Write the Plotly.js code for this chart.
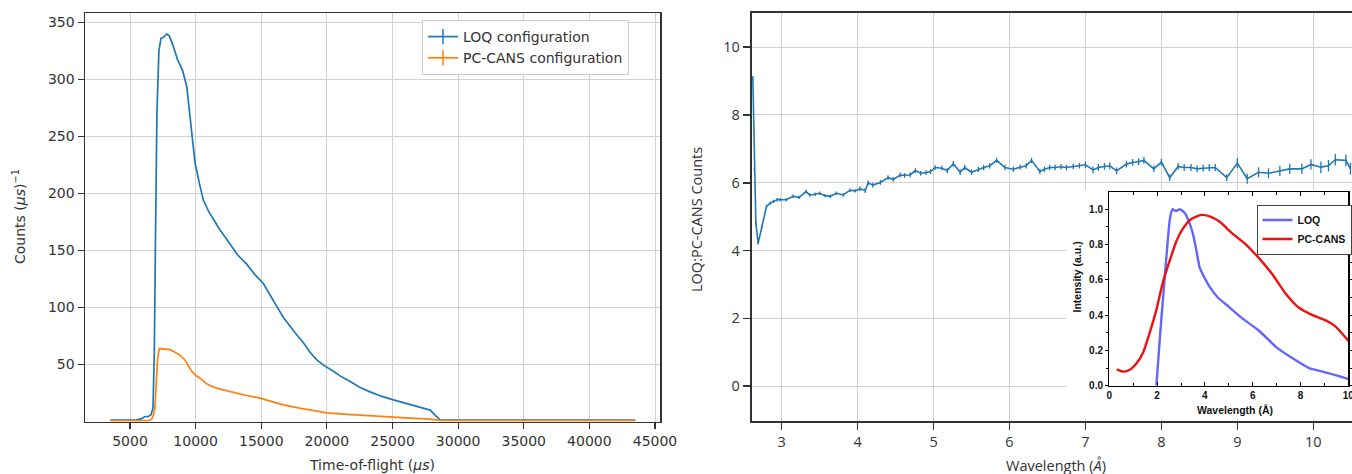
<!DOCTYPE html>
<html><head><meta charset="utf-8">
<script src="https://cdn.plot.ly/plotly-3.0.1.min.js"></script>
<style>html,body{margin:0;padding:0;background:#fff}</style>
</head><body>
<div id="chart" style="width:1352px;height:474px"></div>
<script>
// ---- Left panel: time-of-flight spectra ----
const loqTof = [3500,4500,5500,5900,6100,6400,6600,6750,6850,6950,7050,7200,7360,7550,7800,8000,8300,8600,9000,9320,9500,9700,9950,10300,10590,11000,11350,11860,12300,12620,13200,13890,14500,15160,15700,16180,16700,17200,17700,18210,18700,19230,19800,20500,21000,21770,22500,23290,24200,25070,25800,26600,27300,27870,28200,28630,30000,35000,40000,43500];
const loqCounts = [1.2,1.2,1.5,2.5,4.2,4.5,6,12,60,170,270,325,336,337,340,338,329,318,308,294,275,259,227,208,194,184,177,168,161,156,146,138,129,121,110,101,91,83,76,69,61,54,49,44,40,35,30,26,22,19,16.5,14,12,10,6,1.5,1.2,1.2,1.2,1.2];
const pcTof = [3500,5000,6400,6650,6800,6905,7000,7100,7233,7600,8049,8400,8811,9190,9450,9700,10000,10335,10840,11300,11860,12870,13800,14900,15800,16680,17900,19230,20000,21000,22780,24500,26300,27870,28600,30000,43500];
const pcCounts = [0.6,0.6,0.7,2,6,13,35,55,64,63.5,63,61,58,54,49,44,40.5,38,33,30.5,28.4,25.4,23,20.5,17.5,14.6,11.8,8.8,7.6,6.7,5.3,4.2,3,2,1,0.7,0.7];
const tofTicks = [5000,10000,15000,20000,25000,30000,35000,40000,45000];
const countTicks = [50,100,150,200,250,300,350];
const leftNames = ['LOQ configuration','PC-CANS configuration'];

// ---- Right panel: LOQ:PC-CANS ratio ----
const ratioWavelength = [2.62,2.64,2.66,2.69,2.74,2.80,2.85,2.89,2.94,2.98,3.06,3.15,3.23,3.32,3.37,3.44,3.50,3.57,3.64,3.72,3.81,3.90,3.97,4.03,4.10,4.14,4.20,4.30,4.40,4.47,4.56,4.62,4.69,4.76,4.83,4.90,4.96,5.02,5.11,5.18,5.26,5.35,5.41,5.50,5.59,5.66,5.74,5.83,5.94,6.05,6.14,6.22,6.29,6.40,6.46,6.53,6.60,6.68,6.75,6.84,6.92,7.00,7.10,7.17,7.25,7.32,7.41,7.54,7.62,7.70,7.77,7.90,8.00,8.11,8.22,8.30,8.39,8.47,8.55,8.63,8.71,8.86,9.00,9.13,9.28,9.41,9.56,9.69,9.85,9.97,10.10,10.20,10.29,10.43,10.49];
const ratioCounts = [9.1,6.4,4.8,4.22,4.71,5.3,5.4,5.45,5.5,5.5,5.5,5.6,5.57,5.74,5.64,5.66,5.69,5.62,5.6,5.69,5.64,5.78,5.76,5.82,5.77,6.0,5.93,6.01,6.15,6.1,6.23,6.22,6.23,6.36,6.28,6.3,6.33,6.45,6.43,6.36,6.56,6.31,6.45,6.31,6.4,6.45,6.5,6.66,6.45,6.40,6.46,6.5,6.66,6.33,6.4,6.45,6.45,6.47,6.45,6.48,6.5,6.53,6.38,6.45,6.48,6.5,6.35,6.55,6.6,6.62,6.66,6.41,6.61,6.15,6.48,6.45,6.45,6.41,6.43,6.45,6.45,6.15,6.58,6.12,6.31,6.28,6.35,6.41,6.41,6.54,6.46,6.5,6.68,6.66,6.41];
const ratioError = [0.05,0.05,0.05,0.05,0.05,0.05,0.05,0.05,0.05,0.05,
  0.05,0.05,0.05,0.05,0.05,0.05,0.05,0.05,0.05,0.05,
  0.05,0.05,0.05,0.07,0.07,0.07,0.07,0.07,0.07,0.07,
  0.07,0.07,0.07,0.07,0.07,0.07,0.07,0.07,0.07,0.07,
  0.08,0.08,0.08,0.08,0.08,0.08,0.08,0.08,0.08,0.08,
  0.08,0.08,0.08,0.08,0.08,0.08,0.08,0.08,0.08,0.08,
  0.08,0.1,0.1,0.1,0.1,0.1,0.1,0.1,0.1,0.1,
  0.1,0.1,0.1,0.1,0.1,0.1,0.1,0.1,0.1,0.1,
  0.1,0.1,0.15,0.15,0.15,0.15,0.15,0.15,0.15,0.15,
  0.17,0.17,0.17,0.17,0.17];
const ratioXTicks = [3,4,5,6,7,8,9,10];
const ratioYTicks = [0,2,4,6,8,10];

// ---- Inset: normalised wavelength spectra ----
const insetLoqWavelength = [1.97,2.11,2.25,2.39,2.53,2.64,2.79,2.95,3.15,3.36,3.50,3.64,3.78,3.99,4.20,4.54,4.89,5.58,6.28,6.97,7.67,8.36,8.92,9.47,10.03];
const insetLoqIntensity = [0,0.26,0.5,0.73,0.94,1.0,0.99,1.0,0.98,0.92,0.86,0.77,0.67,0.61,0.56,0.50,0.46,0.38,0.31,0.22,0.155,0.10,0.08,0.06,0.036];
const insetPcWavelength = [0.31,0.58,0.86,1.14,1.42,1.69,1.97,2.25,2.53,2.81,3.08,3.43,3.85,4.20,4.61,5.17,5.72,6.28,6.83,7.39,7.95,8.50,9.06,9.47,10.03];
const insetPcIntensity = [0.093,0.08,0.09,0.127,0.19,0.30,0.43,0.59,0.71,0.82,0.89,0.945,0.968,0.96,0.93,0.86,0.80,0.72,0.63,0.52,0.44,0.40,0.37,0.335,0.25];
const insetXTicks = [0,2,4,6,8,10];
const insetYTicks = [0,0.2,0.4,0.6,0.8,1.0];
const insetNames = ['LOQ','PC-CANS'];

// ---- geometry helpers (pixel -> paper) ----
const W = 1352, H = 474;
const px = v => v / W;
const py = v => 1 - v / H;

const dv = 'DejaVu Sans';
const os = 'Open Sans';
const lib = 'Liberation Sans, Arial, sans-serif';
const txt = '#333333';
const blue = '#1f77b4', orange = '#ff7f0e';

const traces = [
  {x: loqTof, y: loqCounts, xaxis: 'x', yaxis: 'y', mode: 'lines', showlegend: false,
   line: {color: blue, width: 1.7}},
  {x: pcTof, y: pcCounts, xaxis: 'x', yaxis: 'y', mode: 'lines', showlegend: false,
   line: {color: orange, width: 1.7}},
  // legend entries (errorbar style: line with vertical cross)
  {x: [null], y: [null], xaxis: 'x', yaxis: 'y', name: leftNames[0], mode: 'lines+markers', legend: 'legend',
   line: {color: blue, width: 1.7}, marker: {symbol: 'line-ns-open', size: 11, color: blue, line: {width: 1.5, color: blue}}},
  {x: [null], y: [null], xaxis: 'x', yaxis: 'y', name: leftNames[1], mode: 'lines+markers', legend: 'legend',
   line: {color: orange, width: 1.7}, marker: {symbol: 'line-ns-open', size: 11, color: orange, line: {width: 1.5, color: orange}}},
  {x: ratioWavelength, y: ratioCounts, xaxis: 'x2', yaxis: 'y2', mode: 'lines', showlegend: false,
   line: {color: blue, width: 1.6},
   error_y: {type: 'data', array: ratioError, visible: true, color: blue, thickness: 1.3, width: 0}},
  {x: [], y: [], xaxis: 'x3', yaxis: 'y3', mode: 'lines', showlegend: false, hoverinfo: 'skip'},
  {x: insetLoqWavelength, y: insetLoqIntensity, xaxis: 'x4', yaxis: 'y4', name: insetNames[0], mode: 'lines',
   line: {color: '#6464ff', width: 2.4, shape: 'spline', smoothing: 0.5}, legend: 'legend2'},
  {x: insetPcWavelength, y: insetPcIntensity, xaxis: 'x4', yaxis: 'y4', name: insetNames[1], mode: 'lines',
   line: {color: '#ee1111', width: 2.4, shape: 'spline', smoothing: 0.6}, legend: 'legend2'}
];

const gridC = '#d2d2d2';
const axC = '#333333';

const layout = {
  width: W, height: H, autosize: false,
  margin: {l: 0, r: 0, t: 0, b: 0},
  paper_bgcolor: '#ffffff', plot_bgcolor: '#ffffff',
  xaxis: {domain: [px(85), px(660)], range: [1570, 45380], anchor: 'y',
    tickvals: tofTicks, tickformat: 'd', ticks: 'outside', ticklen: 6, tickwidth: 1.2, tickcolor: axC,
    showline: true, mirror: true, linecolor: axC, linewidth: 1.5,
    showgrid: true, gridcolor: gridC, gridwidth: 1, zeroline: false,
    tickfont: {family: dv, size: 14, color: txt}},
  yaxis: {domain: [py(421.5), py(13.3)], range: [0, 358], anchor: 'x',
    tickvals: countTicks, tickformat: 'd', ticks: 'outside', ticklen: 6, tickwidth: 1.2, tickcolor: axC,
    showline: true, mirror: true, linecolor: axC, linewidth: 1.5,
    showgrid: true, gridcolor: gridC, gridwidth: 1, zeroline: false,
    tickfont: {family: dv, size: 14, color: txt}},
  xaxis2: {domain: [px(751.7), 1], range: [2.605, 10.51], anchor: 'y2',
    tickvals: ratioXTicks, ticks: 'outside', ticklen: 7, tickwidth: 1.5, tickcolor: axC,
    showline: true, mirror: true, linecolor: axC, linewidth: 2,
    showgrid: true, gridcolor: gridC, gridwidth: 1, zeroline: false,
    tickfont: {family: os, size: 14.5, color: txt}},
  yaxis2: {domain: [py(421), py(13.3)], range: [-1.03, 11.0], anchor: 'x2',
    tickvals: ratioYTicks, ticks: 'outside', ticklen: 7, tickwidth: 1.5, tickcolor: axC,
    showline: true, mirror: false, linecolor: axC, linewidth: 2,
    showgrid: true, gridcolor: gridC, gridwidth: 1, zeroline: false,
    tickfont: {family: os, size: 14.5, color: txt}},
  xaxis3: {domain: [px(1067), 1], range: [0, 1], anchor: 'y3', visible: false, fixedrange: true},
  yaxis3: {domain: [py(418.5), py(190)], range: [0, 1], anchor: 'x3', visible: false, fixedrange: true},
  xaxis4: {domain: [px(1109.3), px(1348.3)], range: [0, 10], anchor: 'y4',
    tickvals: insetXTicks, ticks: 'inside', ticklen: 4, tickwidth: 1, tickcolor: '#000',
    ticklabeloverflow: 'allow',
    minor: {dtick: 1, ticks: 'inside', ticklen: 2.5, tickcolor: '#000'},
    showline: true, mirror: 'ticks', linecolor: '#000', linewidth: 1.3,
    showgrid: false, zeroline: false,
    tickfont: {family: lib, size: 10, color: '#111', weight: 'bold'}},
  yaxis4: {domain: [py(385.7), py(192.3)], range: [0, 1.096], anchor: 'x4',
    tickvals: insetYTicks, ticktext: ['0.0','0.2','0.4','0.6','0.8','1.0'],
    ticks: 'outside', ticklen: 3, tickwidth: 1, tickcolor: '#000',
    minor: {dtick: 0.1, ticks: 'outside', ticklen: 2, tickcolor: '#000'},
    showline: true, mirror: 'ticks', linecolor: '#000', linewidth: 1.3,
    showgrid: false, zeroline: false,
    tickfont: {family: lib, size: 10, color: '#111', weight: 'bold'}},
  legend: {x: px(422), y: py(20), xanchor: 'left', yanchor: 'top',
    bgcolor: 'rgba(255,255,255,0.9)', bordercolor: '#cccccc', borderwidth: 1,
    font: {family: dv, size: 14, color: txt}, tracegroupgap: 0},
  legend2: {x: px(1256.5), y: py(204.5), xanchor: 'left', yanchor: 'top',
    bgcolor: '#ffffff', bordercolor: '#444444', borderwidth: 1, itemwidth: 30,
    font: {family: lib, size: 10.5, color: '#111', weight: 'bold'}, tracegroupgap: 0},
  shapes: [
    {type: 'rect', xref: 'x3', yref: 'y3', x0: 0, x1: 1, y0: 0, y1: 1, layer: 'below',
     fillcolor: '#ffffff', line: {width: 0}}
  ],
  annotations: [
    {text: 'Time-of-flight (<i>μs</i>)', xref: 'paper', yref: 'paper', x: px(372.5), y: py(465),
     xanchor: 'center', yanchor: 'middle', showarrow: false, font: {family: dv, size: 14, color: txt}},
    {text: 'Counts (<i>μs</i>)<sup>−1</sup>', xref: 'paper', yref: 'paper', x: px(19), y: py(217),
     xanchor: 'center', yanchor: 'middle', textangle: -90, showarrow: false, font: {family: dv, size: 14, color: txt}},
    {text: 'Wavelength (<i>Å</i>)', xref: 'paper', yref: 'paper', x: px(1056), y: py(465),
     xanchor: 'center', yanchor: 'middle', showarrow: false, font: {family: os, size: 14.5, color: txt}},
    {text: 'LOQ:PC-CANS Counts', xref: 'paper', yref: 'paper', x: px(696), y: py(220),
     xanchor: 'center', yanchor: 'middle', textangle: -90, showarrow: false, font: {family: os, size: 14.5, color: txt}},
    {text: 'Intensity (a.u.)', xref: 'paper', yref: 'paper', x: px(1076.5), y: py(277),
     xanchor: 'center', yanchor: 'middle', textangle: -90, showarrow: false, font: {family: lib, size: 10.5, color: '#111', weight: 'bold'}},
    {text: 'Wavelength (Å)', xref: 'paper', yref: 'paper', x: px(1235), y: py(410),
     xanchor: 'center', yanchor: 'middle', showarrow: false, font: {family: lib, size: 10.5, color: '#111', weight: 'bold'}}
  ]
};

Plotly.newPlot('chart', traces, layout, {displayModeBar: false, staticPlot: true});
</script>
</body></html>
